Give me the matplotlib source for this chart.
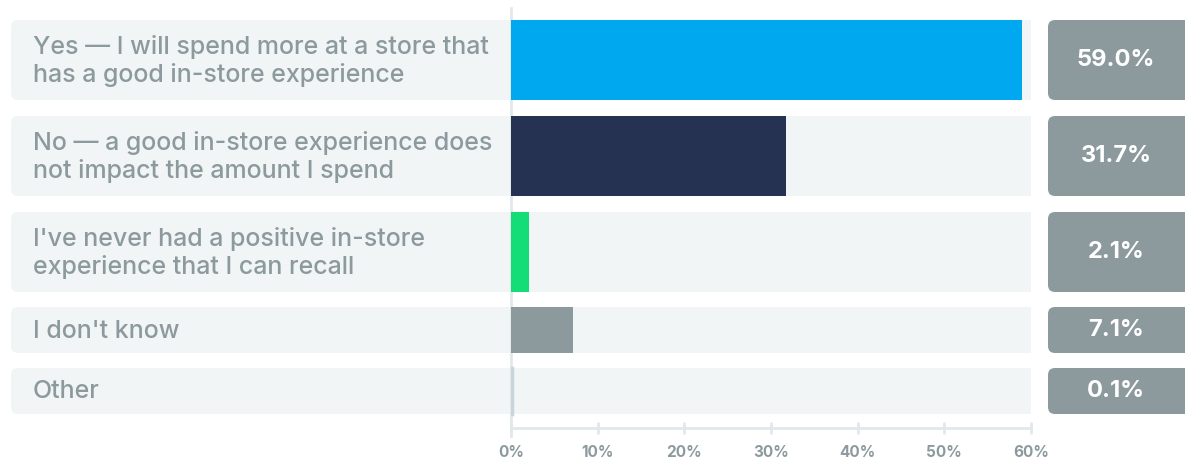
import matplotlib
matplotlib.use("Agg")
import matplotlib.pyplot as plt
from matplotlib.patches import FancyBboxPatch

plt.rcParams['font.family'] = ['Inter', 'DejaVu Sans']

labels = [
    "Yes \u2014 I will spend more at a store that\nhas a good in-store experience",
    "No \u2014 a good in-store experience does\nnot impact the amount I spend",
    "I've never had a positive in-store\nexperience that I can recall",
    "I don't know",
    "Other",
]
values = [59.0, 31.7, 2.1, 7.1, 0.1]
bar_colors = ['#00a9ef', '#253252', '#14dd78', '#8c9a9e', '#c7d6d9']
xticks = [0, 10, 20, 30, 40, 50, 60]

# row layout in pixels (top edge, height), figure is 1185 x 459
row_top = [20, 116, 212, 307, 368]
row_h = [80, 80, 80, 46, 46]
row_mid = [t + h / 2 for t, h in zip(row_top, row_h)]

W, H = 1185, 459
TEXT = '#8c9a9e'
TRACK = '#f1f5f6'
AXIS = '#e2e8ea'

fig = plt.figure(figsize=(W / 100, H / 100), dpi=100)

# background layer in pixel coordinates
bg = fig.add_axes([0, 0, 1, 1])
bg.set_xlim(0, W)
bg.set_ylim(H, 0)
bg.axis('off')

for lab, v, t, h, m in zip(labels, values, row_top, row_h, row_mid):
    bg.add_patch(FancyBboxPatch((11, t), 530, h, boxstyle="round,pad=0,rounding_size=7",
                                fc=TRACK, ec='none'))
    bg.text(33, m + 1, lab, fontsize=18, color=TEXT, va='center', ha='left',
            linespacing=1.2, fontweight='medium')
    bg.add_patch(FancyBboxPatch((1048, t), 150, h, boxstyle="round,pad=0,rounding_size=7",
                                fc='#8c9a9e', ec='none'))
    bg.text(1116, m, f"{v:.1f}%", fontsize=17, color='white', fontweight='bold',
            ha='center', va='center')

# bar layer
ax = fig.add_axes([511 / W, 0, 520 / W, 1])
ax.patch.set_visible(False)
ax.set_xlim(0, 60)
ax.set_ylim(H, 0)

ax.barh(row_mid, 60, height=row_h, color=TRACK, zorder=1)
ax.barh(row_mid, values, height=row_h, color=bar_colors, edgecolor=bar_colors,
        linewidth=[0, 0, 0, 0, 2.5], zorder=3)

for s in ['top', 'right']:
    ax.spines[s].set_visible(False)
ax.spines['left'].set_bounds(8, 436)
ax.spines['left'].set_color(AXIS)
ax.spines['left'].set_linewidth(2)
ax.spines['bottom'].set_position(('data', 428))
ax.spines['bottom'].set_bounds(0, 60)
ax.spines['bottom'].set_color(AXIS)
ax.spines['bottom'].set_linewidth(2)

ax.set_yticks([])
ax.set_xticks(xticks)
ax.set_xticklabels([f"{x}%" for x in xticks])
ax.tick_params(axis='x', direction='inout', length=8, width=2, color=AXIS,
               labelcolor=TEXT, labelsize=11, pad=8)
for tl in ax.get_xticklabels():
    tl.set_fontweight('bold')

fig.savefig('out.png', dpi=100)
